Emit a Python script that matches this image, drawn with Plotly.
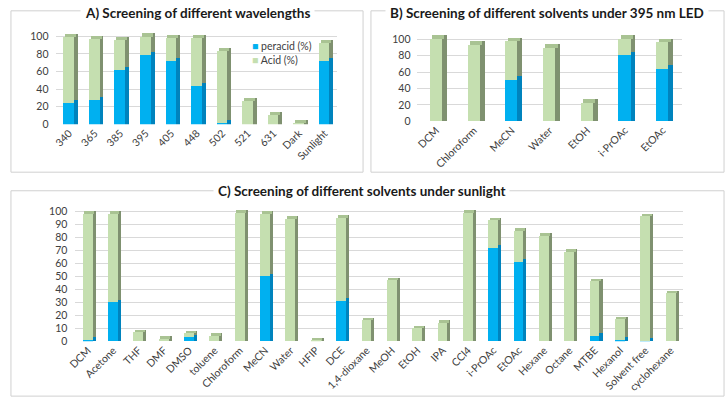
import plotly.graph_objects as go

# ---------------- data ----------------
A_cats = ["340", "365", "385", "395", "405", "448", "502", "521", "631", "Dark", "Sunlight"]
A_peracid = [24, 28, 62, 79, 72, 44, 2, 0, 0, 0, 72]
A_acid = [75, 69, 34, 21, 26, 54, 81, 27, 11, 2, 21]

B_cats = ["DCM", "Chloroform", "MeCN", "Water", "EtOH", "i-PrOAc", "EtOAc"]
B_peracid = [0, 0, 50, 0, 0, 80, 64]
B_acid = [100, 93, 47, 89, 22, 20, 32]

C_cats = ["DCM", "Acetone", "THF", "DMF", "DMSO", "toluene", "Chloroform", "MeCN", "Water",
          "HFIP", "DCE", "1,4-dioxane", "MeOH", "EtOH", "IPA", "CCl4", "i-PrOAc", "EtOAc",
          "Hexane", "Octane", "MTBE", "Hexanol", "Solvent free", "cyclohexane"]
C_peracid = [1, 30, 0, 0, 3, 0, 0, 50, 0, 0, 31, 0, 0, 0, 0, 0, 72, 61, 0, 0, 4, 1, 0.5, 0]
C_acid = [97, 68, 7, 2, 3, 4, 99, 48, 94, 0.5, 64, 16, 47, 10, 14, 99, 21, 24, 81, 69, 42, 16, 95.5, 37]

W, H = 727, 407
BLUE, BLUE_SIDE = "#00b0f0", "#0083bd"
GREEN, GREEN_SIDE, GREEN_TOP = "#c5dfb0", "#7f9170", "#a9c393"
FONT = "Lato"

fig = go.Figure()


def px_x(a, b):
    return [a / W, b / W]


def px_y(top, bottom):
    return [1 - bottom / H, 1 - top / H]


def add_panel(cats, per, acid, xa, ya, w, d, dz):
    total = [p + a for p, a in zip(per, acid)]
    per_vis = [p if p > 0 else None for p in per]
    per_side = [p + dz if p > 0 else None for p in per]
    common = dict(x=cats, xaxis=xa, yaxis=ya, marker_line_width=0, hoverinfo="skip",
                  showlegend=False)
    # side faces
    fig.add_trace(go.Bar(y=[a + dz for a in acid], base=per, width=d, offset=w / 2,
                         marker_color=GREEN_SIDE, **common))
    fig.add_trace(go.Bar(y=per_side, base=0, width=d, offset=w / 2,
                         marker_color=BLUE_SIDE, **common))
    # top caps
    fig.add_trace(go.Bar(y=[dz] * len(cats), base=total, width=w, offset=-w / 2 + d / 2,
                         marker_color=GREEN_TOP, **common))
    # front faces
    fig.add_trace(go.Bar(y=per_vis, base=0, width=w, offset=-w / 2, marker_color=BLUE,
                         name="peracid (%)", **common))
    fig.add_trace(go.Bar(y=acid, base=per, width=w, offset=-w / 2, marker_color=GREEN,
                         name="Acid (%)", **common))


add_panel(A_cats, A_peracid, A_acid, "x", "y", 0.42, 0.15, 3.5)
add_panel(B_cats, B_peracid, B_acid, "x2", "y2", 0.32, 0.13, 4.5)
add_panel(C_cats, C_peracid, C_acid, "x3", "y3", 0.39, 0.12, 2.0)

tick_font = dict(family=FONT, size=10.5, color="#404040")
xcommon = dict(type="category", tickangle=-45, showgrid=False, showline=False, ticks="",
               tickfont=tick_font, fixedrange=True)
ycommon = dict(showgrid=True, gridcolor="#d9d9d9", gridwidth=1, zeroline=False, showline=False,
               ticks="", tickfont=tick_font, fixedrange=True, anchor="free")

fig.update_layout(
    xaxis=dict(domain=px_x(49, 333), anchor="y", **xcommon),
    yaxis=dict(domain=px_y(124 - 0.9 * 104, 124), range=[0, 104], dtick=20,
               position=41 / W, **ycommon),
    xaxis2=dict(domain=px_x(414, 681), anchor="y2", **xcommon),
    yaxis2=dict(domain=px_y(121 - 0.84 * 106, 121), range=[0, 106], dtick=20,
                position=407 / W, **ycommon),
    xaxis3=dict(domain=px_x(68, 683), anchor="y3", **xcommon),
    yaxis3=dict(domain=px_y(346 - 1.33 * 104, 346), range=[0, 104], dtick=10,
                position=60 / W, **ycommon),
)

# panel boxes
boxes = [(3, 8, 359, 173), (367, 8, 724, 173), (3, 192, 724, 402)]
for x0, y0, x1, y1 in boxes:
    fig.add_shape(type="rect", xref="paper", yref="paper", x0=x0 / W, x1=x1 / W,
                  y0=1 - y1 / H, y1=1 - y0 / H, line=dict(color="#d0d0d0", width=1),
                  fillcolor="rgba(0,0,0,0)", layer="below")

titles = [("A) Screening of different wavelengths", 192, 10),
          ("B) Screening of different solvents under 395 nm LED", 545, 10),
          ("C) Screening of different solvents under sunlight", 357, 192)]
for txt, cx, cy in titles:
    fig.add_annotation(text="<b>" + txt + "</b>", xref="paper", yref="paper",
                       x=cx / W, y=1 - cy / H, xanchor="center", yanchor="middle",
                       showarrow=False, bgcolor="white", borderpad=4,
                       font=dict(family=FONT, size=13.5, color="#1a1a1a"))

# legend for panel A (coloured squares + labels)
legend_txt = ("<span style='color:%s'>■</span> peracid (%%)<br>"
              "<span style='color:%s'>■</span> Acid (%%)") % (BLUE, GREEN)
fig.add_annotation(text=legend_txt, xref="paper", yref="paper", x=245 / W, y=1 - 36 / H,
                   xanchor="left", yanchor="top", align="left", showarrow=False,
                   font=dict(family=FONT, size=10.5, color="#404040"))

fig.update_layout(
    width=W, height=H, margin=dict(l=0, r=0, t=0, b=0),
    paper_bgcolor="white", plot_bgcolor="white",
    barmode="overlay", bargap=0,
    showlegend=False,
    font=dict(family=FONT),
)

fig.write_html("out.html", config={"displayModeBar": False},
               post_script="document.body.style.margin='0px';")
